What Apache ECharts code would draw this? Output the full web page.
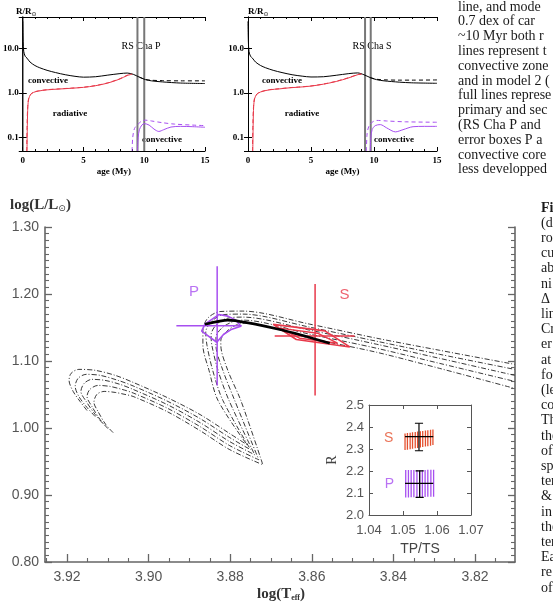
<!DOCTYPE html>
<html><head><meta charset="utf-8">
<script src="https://cdn.jsdelivr.net/npm/echarts@6/dist/echarts.min.js"></script>
<style>html,body{margin:0;padding:0;background:#fff}#c{width:553px;height:604px}</style>
</head><body><div id="c"></div>
<script>
// ================= DATA =================
// --- top panels: radius (R/Rsun) vs age (My) ---
const ageTicks = [0, 5, 10, 15];
const pAgeLines = [9.44, 10.0];
const sAgeLines = [9.29, 9.74];
const pBlackSolid = [[0,40],[0.03,14],[0.08,8.5],[0.2,6.6],[0.35,6.0],[0.6,4.9],[1.0,4.1],[1.4,3.65],[2.0,3.2],[2.7,2.85],[3.5,2.55],[4.3,2.35],[5,2.25],[6,2.3],[7,2.5],[8,2.7],[8.6,2.78],[9.1,2.6],[9.6,2.25],[10.1,1.98],[10.6,1.86],[11.5,1.76],[13,1.66],[15,1.62]];
const pBlackDashed = [[9.6,2.25],[10.1,2.0],[10.6,1.92],[11.5,1.88],[13,1.86],[15,1.86]];
const pRedSolid = [[0.35,0.05],[0.38,0.2],[0.42,0.5],[0.5,0.75],[0.65,0.92],[0.9,1.03],[1.3,1.1],[2,1.17],[3,1.22],[4,1.27],[5,1.33],[6,1.45],[7,1.66],[8,2.05],[8.6,2.45],[9.0,2.62]];
const pRedDashed = [[0.33,0.05],[0.36,0.2],[0.41,0.5],[0.49,0.76],[0.65,0.93],[0.9,1.04],[1.3,1.11],[2,1.18],[3,1.23],[4,1.28],[5,1.34],[6,1.46],[7,1.68],[8,2.08],[8.6,2.48],[9.0,2.64]];
const pPurpleSolid = [[9.45,0.05],[9.5,0.1],[9.6,0.15],[9.8,0.19],[10.0,0.205],[10.4,0.19],[10.8,0.155],[11.2,0.137],[11.6,0.15],[12.2,0.172],[13,0.178],[14,0.175],[15,0.17]];
const pPurpleDashed = [[9.0,0.05],[9.05,0.1],[9.2,0.16],[9.5,0.2],[9.8,0.235],[10.1,0.245],[10.6,0.235],[11.5,0.215],[12.5,0.2],[14,0.19],[15,0.185]];
const sBlackSolid = [[0,40],[0.03,14],[0.08,8.5],[0.2,6.6],[0.35,6.0],[0.6,4.9],[1.0,4.1],[1.4,3.65],[2.0,3.2],[2.7,2.85],[3.5,2.55],[4.3,2.37],[5,2.27],[6,2.3],[7,2.48],[8,2.7],[8.7,2.8],[9.2,2.55],[9.7,2.2],[10.2,1.98],[10.8,1.86],[12,1.74],[13,1.68],[15,1.64]];
const sBlackDashed = [[9.7,2.2],[10.2,2.02],[10.8,1.96],[12,1.93],[13,1.93],[15,1.95]];
const sRedSolid = [[0.38,0.05],[0.41,0.2],[0.45,0.5],[0.53,0.75],[0.7,0.93],[1,1.05],[1.7,1.17],[2.5,1.23],[3.3,1.3],[4,1.34],[5,1.42],[6,1.57],[7,1.8],[8,2.17],[8.7,2.55],[9.0,2.62]];
const sRedDashed = [[0.36,0.05],[0.39,0.2],[0.44,0.5],[0.52,0.76],[0.7,0.94],[1,1.06],[1.7,1.18],[2.5,1.24],[3.3,1.31],[4,1.35],[5,1.43],[6,1.58],[7,1.82],[8,2.2],[8.7,2.57],[9.0,2.64]];
const sPurpleSolid = [[9.7,0.05],[9.75,0.1],[9.85,0.15],[10.1,0.185],[10.5,0.195],[11,0.165],[11.7,0.134],[12.3,0.15],[13.1,0.175],[14,0.178],[15,0.178]];
const sPurpleDashed = [[9.4,0.05],[9.45,0.12],[9.6,0.18],[9.9,0.225],[10.2,0.242],[11,0.235],[12.5,0.225],[15,0.22]];

// --- main HR diagram: log(Teff) vs log(L/Lsun) ---
const teffLabels = [3.92, 3.90, 3.88, 3.86, 3.84, 3.82];
const teffMinor = [3.925,3.915,3.91,3.905,3.895,3.89,3.885,3.875,3.87,3.865,3.855,3.85,3.845,3.835,3.83,3.825,3.815];
const track0 = [[3.9151,1.0261],[3.9168,1.0396],[3.9185,1.0546],[3.9195,1.0711],[3.9190,1.0816],[3.9171,1.0875],[3.9131,1.0861],[3.9082,1.0786],[3.9038,1.0681],[3.8955,1.0456],[3.8874,1.0201],[3.8801,0.9916],[3.8759,0.9751],[3.8830,1.0411],[3.8852,1.0861],[3.8867,1.1235],[3.8867,1.1460],[3.8855,1.1640],[3.8825,1.1738],[3.8769,1.1745],[3.8605,1.1550],[3.8441,1.1340],[3.8287,1.1160],[3.8103,1.0950]];
const track1 = [[3.9131,1.0171],[3.9151,1.0306],[3.9171,1.0471],[3.9180,1.0621],[3.9173,1.0741],[3.9153,1.0801],[3.9119,1.0786],[3.9075,1.0711],[3.9038,1.0628],[3.8955,1.0403],[3.8874,1.0141],[3.8801,0.9856],[3.8750,0.9676],[3.8818,1.0411],[3.8843,1.0861],[3.8857,1.1235],[3.8860,1.1430],[3.8845,1.1595],[3.8816,1.1693],[3.8769,1.1700],[3.8605,1.1505],[3.8441,1.1295],[3.8287,1.1100],[3.8103,1.0875]];
const track2 = [[3.9112,1.0066],[3.9131,1.0201],[3.9153,1.0396],[3.9166,1.0546],[3.9158,1.0666],[3.9139,1.0726],[3.9107,1.0711],[3.9070,1.0651],[3.9038,1.0576],[3.8955,1.0351],[3.8874,1.0081],[3.8801,0.9796],[3.8740,0.9601],[3.8803,1.0411],[3.8830,1.0861],[3.8845,1.1235],[3.8847,1.1385],[3.8833,1.1550],[3.8806,1.1640],[3.8769,1.1655],[3.8605,1.1460],[3.8441,1.1250],[3.8287,1.1040],[3.8103,1.0786]];
const track3 = [[3.9100,0.9991],[3.9119,1.0126],[3.9139,1.0321],[3.9151,1.0471],[3.9144,1.0576],[3.9124,1.0636],[3.9095,1.0621],[3.9065,1.0576],[3.9038,1.0523],[3.8955,1.0298],[3.8874,1.0021],[3.8801,0.9736],[3.8730,0.9526],[3.8789,1.0411],[3.8818,1.0861],[3.8835,1.1235],[3.8835,1.1355],[3.8821,1.1490],[3.8796,1.1580],[3.8769,1.1610],[3.8605,1.1400],[3.8441,1.1190],[3.8287,1.0965],[3.8103,1.0696]];
const track4 = [[3.9087,0.9931],[3.9105,1.0051],[3.9124,1.0246],[3.9134,1.0381],[3.9127,1.0501],[3.9109,1.0546],[3.9082,1.0531],[3.9058,1.0501],[3.9038,1.0471],[3.8955,1.0246],[3.8874,0.9961],[3.8801,0.9676],[3.8720,0.9451],[3.8774,1.0411],[3.8806,1.0861],[3.8823,1.1235],[3.8823,1.1310],[3.8808,1.1445],[3.8786,1.1535],[3.8764,1.1565],[3.8605,1.1340],[3.8441,1.1130],[3.8287,1.0890],[3.8103,1.0591]];
const bestFit = [[3.8862,1.155],[3.8806,1.161],[3.8671,1.146],[3.8556,1.1265]];
const pBox = [[3.8862,1.1550],[3.8828,1.1693],[3.8806,1.1670],[3.8786,1.1610],[3.8774,1.1520],[3.8796,1.1475],[3.8816,1.1400],[3.8833,1.1280],[3.8870,1.1445],[3.8862,1.1550]];
const sBoxOuter = [[3.8695,1.1546],[3.8568,1.1450],[3.8507,1.1210],[3.8638,1.1321],[3.8695,1.1546]];
const sBoxInner = [[3.8679,1.1490],[3.8586,1.1415],[3.8537,1.1265],[3.8630,1.1340],[3.8679,1.1490]];
const pErrV = [[3.8832,1.2415],[3.8832,1.0636]];
const pErrH = [[3.8932,1.1525],[3.8772,1.1525]];
const sErrV = [[3.8592,1.2150],[3.8592,1.0486]];
const sErrH = [[3.8691,1.1375],[3.8495,1.1375]];
const pLabelPos = [3.8889, 1.2035];
const sLabelPos = [3.8520, 1.1985];

// --- inset: R vs TP/TS ---
const insetXTicks = [1.04, 1.05, 1.06, 1.07];
const sRedX = [1.0506,1.0513,1.0521,1.0528,1.0536,1.0543,1.0551,1.0558,1.0566,1.0573,1.0581,1.0588];
const sRedLow = [2.295,2.297,2.299,2.301,2.303,2.305,2.307,2.309,2.311,2.313,2.315,2.318];
const sRedHigh = [2.371,2.373,2.374,2.376,2.377,2.379,2.381,2.382,2.384,2.385,2.387,2.389];
const pPurX = [1.0508,1.0516,1.0524,1.0532,1.0541,1.0549,1.0557,1.0565,1.0573,1.0582,1.0590];
const pPurLow = [2.080,2.080,2.081,2.081,2.081,2.082,2.082,2.082,2.083,2.083,2.083];
const pPurHigh = [2.204,2.204,2.204,2.205,2.205,2.205,2.205,2.205,2.206,2.206,2.206];
const sErr = {x:1.0547, y:2.356, xLo:1.0506, xHi:1.0589, yLo:2.292, yHi:2.417};
const pErr = {x:1.0549, y:2.144, xLo:1.0506, xHi:1.0589, yLo:2.080, yHi:2.201};
const insetSLabel = [1.0458, 2.349];
const insetPLabel = [1.0460, 2.139];

// --- side text (caption column fragments) ---
const topTextLines = ['line, and mode','0.7 dex of car','~10 Myr both r','lines represent t','convective zone','and in model 2 (','full lines represe','primary and sec','(RS Cha P and','error boxes P a','convective core','less developped'];
const sideTextLines = ['Fi','(d','ro','cu','ab','ni','Δ','lin','Cr','er','at','fo','(le','co','Th','the','of','sp','ter','&','in','the','ter','Ea','re','of'];

// ================= STYLE / BUILD =================
const PURPLE = '#a74ff0', RED = '#e8394a', IRED = '#e5502e';
const serifB = {fontFamily:'Liberation Serif', fontWeight:'bold', fontSize:9, color:'#000'};

function fmtLog(v){
  const e = Math.round(Math.log10(v));
  if (Math.abs(Math.log10(v) - e) > 1e-6) return '';
  return e === 1 ? '10.0' : e === 0 ? '1.0' : e === -1 ? '0.1' : '';
}

const xAxes = [], yAxes = [], series = [];
function topPanel(gi){
  const xb = xAxes.length, yb = yAxes.length;
  const baseX = {gridIndex:gi, type:'value', min:0, max:15, interval:5,
    axisLine:{lineStyle:{color:'#000', width:1}},
    axisTick:{inside:true, length:4, lineStyle:{color:'#000'}},
    minorTick:{show:true, splitNumber:5, length:2, lineStyle:{color:'#000'}},
    splitLine:{show:false}};
  xAxes.push(Object.assign({}, baseX, {position:'bottom',
    axisLabel:Object.assign({margin:5}, serifB),
    name:'age (My)', nameLocation:'middle', nameGap:16, nameTextStyle:serifB}));
  xAxes.push(Object.assign({}, baseX, {position:'top', axisLabel:{show:false}}));
  const baseY = {gridIndex:gi, type:'log', logBase:10, min:0.05, max:50, splitNumber:3,
    axisLine:{lineStyle:{color:'#000', width:1}},
    axisTick:{inside:true, length:4, lineStyle:{color:'#000'}},
    splitLine:{show:false}};
  yAxes.push(Object.assign({}, baseY, {position:'left', axisLabel:Object.assign({margin:4, formatter:fmtLog}, serifB)}));
  yAxes.push(Object.assign({}, baseY, {position:'right', axisLabel:{show:false}}));
  return [xb, yb];
}
function ln(data, xi, yi, color, width, type, opts){
  return Object.assign({type:'line', xAxisIndex:xi, yAxisIndex:yi, data:data, symbol:'none', showSymbol:false,
    lineStyle:{color:color, width:width, type:type||'solid'}, silent:true, animation:false}, opts||{});
}

// panel P
let [px, py] = topPanel(0);
pAgeLines.forEach(a => series.push(ln([[a,0.05],[a,50]], px, py, '#777', 2)));
series.push(ln(pBlackSolid, px, py, '#000', 1, 'solid', {smooth:0.3}));
series.push(ln(pBlackDashed, px, py, '#000', 1, [4,3], {smooth:0.3}));
series.push(ln(pRedDashed, px, py, RED, 1, [4,3], {smooth:0.3}));
series.push(ln(pRedSolid, px, py, RED, 1, 'solid', {smooth:0.3}));
series.push(ln(pPurpleDashed, px, py, PURPLE, 1, [4,3], {smooth:0.3}));
series.push(ln(pPurpleSolid, px, py, PURPLE, 1, 'solid', {smooth:0.3}));
// panel S
let [sx, sy] = topPanel(1);
sAgeLines.forEach(a => series.push(ln([[a,0.05],[a,50]], sx, sy, '#777', 2)));
series.push(ln(sBlackSolid, sx, sy, '#000', 1, 'solid', {smooth:0.3}));
series.push(ln(sBlackDashed, sx, sy, '#000', 1, [4,3], {smooth:0.3}));
series.push(ln(sRedDashed, sx, sy, RED, 1, [4,3], {smooth:0.3}));
series.push(ln(sRedSolid, sx, sy, RED, 1, 'solid', {smooth:0.3}));
series.push(ln(sPurpleDashed, sx, sy, PURPLE, 1, [4,3], {smooth:0.3}));
series.push(ln(sPurpleSolid, sx, sy, PURPLE, 1, 'solid', {smooth:0.3}));

// main HR diagram (grid 2)
const GRAY = '#666', LBL = '#555';
const mx = xAxes.length, my = yAxes.length;
const mainX = {gridIndex:2, type:'value', inverse:true, min:3.8102, max:3.9254, position:'bottom', splitLine:{show:false}};
xAxes.push(Object.assign({}, mainX, {
  axisLine:{lineStyle:{color:GRAY, width:1.6}},
  axisTick:{inside:true, length:8, customValues:teffLabels, lineStyle:{color:GRAY, width:1.3}},
  axisLabel:{customValues:teffLabels, formatter:v=>v.toFixed(2), color:LBL, fontFamily:'Liberation Sans', fontSize:14, margin:8}}));
xAxes.push(Object.assign({}, mainX, {
  axisLine:{show:false},
  axisTick:{inside:true, length:4, customValues:teffMinor, lineStyle:{color:GRAY, width:1.1}},
  axisLabel:{show:false}}));
const mainY = {gridIndex:2, type:'value', min:0.8, max:1.3, interval:0.1, splitLine:{show:false},
  axisLine:{lineStyle:{color:GRAY, width:1.6}},
  axisTick:{inside:true, length:7, lineStyle:{color:GRAY, width:1.3}},
  minorTick:{show:true, splitNumber:10, length:4, lineStyle:{color:GRAY, width:1.1}}};
yAxes.push(Object.assign({}, mainY, {position:'left',
  axisLabel:{formatter:v=>v.toFixed(2), color:LBL, fontFamily:'Liberation Sans', fontSize:14, margin:6}}));
yAxes.push(Object.assign({}, mainY, {position:'right', axisLabel:{show:false}}));

[track0, track1, track2, track3, track4].forEach(t =>
  series.push(ln(t, mx, my, '#222', 0.9, [5,2,1,2], {smooth:0.3})));
series.push(ln(pErrV, mx, my, PURPLE, 1.5));
series.push(ln(pErrH, mx, my, PURPLE, 1.5));
series.push(ln(pBox, mx, my, PURPLE, 1.6));
series.push(ln(sErrV, mx, my, RED, 1.5));
series.push(ln(sErrH, mx, my, RED, 1.5));
series.push(ln(sBoxOuter, mx, my, RED, 1.6));
series.push(ln(sBoxInner, mx, my, RED, 1.4));
series.push(ln(bestFit, mx, my, '#000', 2.6, 'solid', {smooth:0.2}));
series.push({type:'scatter', xAxisIndex:mx, yAxisIndex:my, symbolSize:0, silent:true, animation:false,
  data:[{value:pLabelPos, label:{formatter:'P', color:PURPLE}}, {value:sLabelPos, label:{formatter:'S', color:RED}}],
  label:{show:true, position:'inside', fontFamily:'Liberation Sans', fontSize:15}});

// inset (grid 3)
const ix = xAxes.length, iy = yAxes.length;
const inX = {gridIndex:3, type:'value', min:1.04, max:1.07, interval:0.01, splitLine:{show:false},
  axisLine:{lineStyle:{color:'#555', width:1}},
  axisTick:{inside:true, length:4, lineStyle:{color:'#555'}}};
xAxes.push(Object.assign({}, inX, {position:'bottom', axisLabel:{formatter:v=>v.toFixed(2), color:LBL, fontFamily:'Liberation Sans', fontSize:13, margin:9},
  name:'TP/TS', nameLocation:'middle', nameGap:27, nameTextStyle:{color:'#444', fontFamily:'Liberation Sans', fontSize:14}}));
xAxes.push(Object.assign({}, inX, {position:'top', axisLabel:{show:false}}));
const inY = {gridIndex:3, type:'value', min:2.0, max:2.5, interval:0.1, splitLine:{show:false},
  axisLine:{lineStyle:{color:'#555', width:1}},
  axisTick:{inside:true, length:4, lineStyle:{color:'#555'}}};
yAxes.push(Object.assign({}, inY, {position:'left', axisLabel:{formatter:v=>v.toFixed(1), color:LBL, fontFamily:'Liberation Sans', fontSize:13, margin:5},
  name:'R', nameLocation:'middle', nameGap:30, nameRotate:90, nameTextStyle:{color:'#444', fontFamily:'Liberation Serif', fontSize:14}}));
yAxes.push(Object.assign({}, inY, {position:'right', axisLabel:{show:false}}));

sRedX.forEach((x,i) => series.push(ln([[x,sRedLow[i]],[x,sRedHigh[i]]], ix, iy, IRED, 1.3)));
pPurX.forEach((x,i) => series.push(ln([[x,pPurLow[i]],[x,pPurHigh[i]]], ix, iy, PURPLE, 1.3)));
[sErr, pErr].forEach(e => {
  series.push(ln([[e.x,e.yLo],[e.x,e.yHi]], ix, iy, '#000', 1.2));
  series.push(ln([[e.xLo,e.y],[e.xHi,e.y]], ix, iy, '#000', 1.2));
  series.push(ln([[e.x-0.0012,e.yLo],[e.x+0.0012,e.yLo]], ix, iy, '#000', 1.2));
  series.push(ln([[e.x-0.0012,e.yHi],[e.x+0.0012,e.yHi]], ix, iy, '#000', 1.2));
});
series.push({type:'scatter', xAxisIndex:ix, yAxisIndex:iy, symbolSize:0, silent:true, animation:false,
  data:[{value:insetSLabel, label:{formatter:'S', color:IRED}}, {value:insetPLabel, label:{formatter:'P', color:PURPLE}}],
  label:{show:true, position:'inside', fontFamily:'Liberation Sans', fontSize:14}});

// ---- text graphics ----
const graphics = [];
function txt(x, y, s, o){ graphics.push({type:'text', x:x, y:y, silent:true, style:Object.assign({text:s, fill:'#000', align:'center', verticalAlign:'middle', fontFamily:'Liberation Serif', fontSize:9, fontWeight:'bold'}, o||{})}); }
// top panel annotations
[0, 232].forEach(dx => {
  txt(dx+16, 12, '{a|R/R}{b|⊙}', {align:'left', rich:{a:{fontFamily:'Liberation Serif', fontWeight:'bold', fontSize:9}, b:{fontFamily:'DejaVu Sans', fontSize:6, padding:[5,0,0,0]}}});
});
txt(141, 46, 'RS Cha P', {fontWeight:'normal', fontSize:10});
txt(372, 46, 'RS Cha S', {fontWeight:'normal', fontSize:10});
txt(48, 81, 'convective'); txt(70, 114, 'radiative'); txt(162, 140, 'convective');
txt(282, 81, 'convective'); txt(302, 114, 'radiative'); txt(394, 140, 'convective');
// main axis titles
txt(10, 205, '{a|log(L/L}{b|⊙}{a|)}', {align:'left', rich:{a:{fontFamily:'Liberation Serif', fontWeight:'bold', fontSize:15, fill:'#333'}, b:{fontFamily:'DejaVu Sans', fontSize:9, padding:[7,0,0,0], fill:'#333'}}});
txt(281, 594, '{a|log(T}{b|eff}{a|)}', {rich:{a:{fontFamily:'Liberation Serif', fontWeight:'bold', fontSize:15, fill:'#333'}, b:{fontFamily:'Liberation Serif', fontWeight:'bold', fontSize:8, padding:[7,0,0,0], fill:'#333'}}});
// caption column
topTextLines.forEach((s,i) => txt(458, 7 + i*14.8, s, {align:'left', fontWeight:'normal', fontSize:14, fill:'#1a1a1a'}));
sideTextLines.forEach((s,i) => txt(541, 208 + i*15.2, s, {align:'left', fontWeight: i===0?'bold':'normal', fontSize:14, fill:'#1a1a1a'}));

const chart = echarts.init(document.getElementById('c'), null, {renderer:'canvas', width:553, height:604});
chart.setOption({
  animation:false,
  backgroundColor:'#fff',
  grid:[
    {left:16, top:17, width:189, height:134},
    {left:248, top:17, width:189, height:134},
    {left:45, top:227, right:38, bottom:42},
    {left:369, top:405, width:102, height:110}
  ],
  xAxis:xAxes, yAxis:yAxes, series:series, graphic:graphics
});
</script></body></html>
